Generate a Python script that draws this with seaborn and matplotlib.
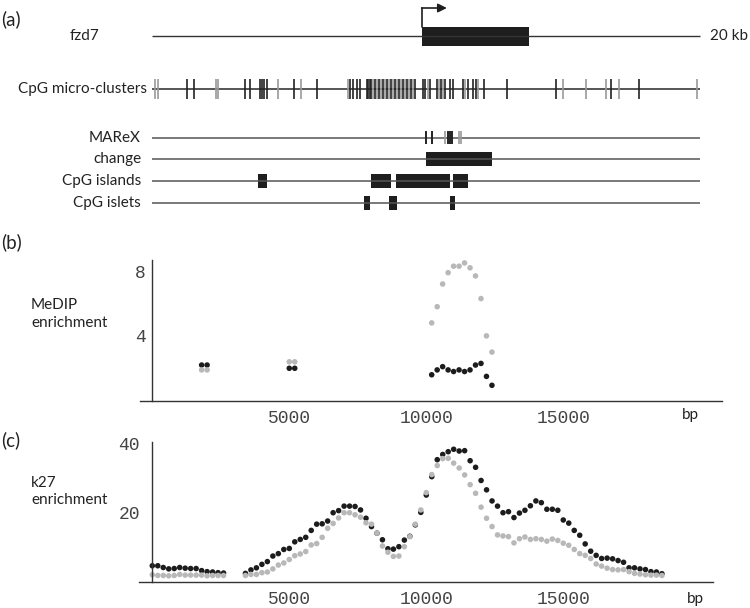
import numpy as np
import pandas as pd
import matplotlib.pyplot as plt
import seaborn as sns

# ---------------- data (bp along the 20 kb window) ----------------
gene_start, gene_end = 9850, 13750

micro_black = [1270, 1530, 3390, 3570, 3930, 4000, 4080, 4180, 5160, 6000, 7230, 7310,
               7460, 7580, 7820, 7870, 7930, 7980, 8130, 8280, 8420, 8570, 8710, 8860,
               9000, 9150, 9300, 9440, 9590, 9880, 9950, 10140, 10390, 10540, 10680,
               10870, 10960, 11340, 11520, 11710, 11820, 12110, 12950, 14740, 16740, 17770]
micro_gray = [100, 190, 2340, 2410, 4600, 5440, 7160, 8060, 8200, 8350, 8490, 8640, 8790,
              8930, 9080, 9220, 9370, 9520, 10050, 10460, 10610, 11430, 11890, 14990,
              15830, 16560, 17040, 19880]

marex_black = [9990, 10200, 10800, 10870, 10930]
marex_gray = [10670, 11190, 11280]
change = [(10000, 12390)]
cpg_islands = [(3870, 4180), (7980, 8710), (8880, 10870), (10990, 11530)]
cpg_islets = [(7740, 7950), (8650, 8930), (10870, 11060)]

# MeDIP enrichment
medip_bp = [1800, 2000, 5000, 5200, 10200, 10400, 10600, 10800, 11000, 11200,
            11400, 11600, 11800, 12000, 12200, 12400]
medip_black = [2.2, 2.2, 2.0, 2.0, 1.6, 1.9, 2.1, 1.9, 1.8, 1.9, 1.8, 1.9, 2.2, 2.3, 1.5, 0.95]
medip_gray = [1.9, 1.9, 2.4, 2.4, 4.8, 5.8, 7.2, 7.9, 8.3, 8.3, 8.5, 8.2, 7.7, 6.3, 4.0, 3.0]

# k27 enrichment, 200 bp bins
k27_bp = list(range(0, 2601, 200)) + list(range(3400, 18601, 200))
k27_black = [4.6, 4.6, 4.1, 3.7, 3.8, 4.1, 3.9, 3.8, 3.8, 3.2, 2.9, 2.8, 2.6, 2.5,
             2.4, 3.4, 4.0, 5.0, 5.8, 7.4, 8.1, 9.3, 9.6, 11.5, 12.2, 12.8, 14.8, 16.6,
             16.7, 17.5, 19.9, 20.5, 21.8, 21.8, 21.7, 20.7, 18.3, 15.9, 14.0, 12.1, 9.5,
             9.4, 10.1, 12.0, 13.1, 16.4, 20.0,
             25.0, 30.3, 35.2, 36.7, 37.5, 38.2, 37.7, 37.8, 34.9, 33.0, 29.2, 26.5, 23.3,
             21.8, 19.9, 20.2, 18.5, 19.8, 20.6, 21.9, 23.3, 22.8, 20.9, 20.9, 20.6, 17.8,
             16.9, 14.8, 13.4, 10.9, 8.8, 7.6, 6.7, 6.8, 6.6, 6.1, 5.6, 4.0, 4.0, 3.7, 3.5,
             2.9, 2.8, 2.3]
k27_gray = [2.0, 1.8, 1.8, 1.7, 1.8, 2.1, 1.9, 1.9, 1.9, 1.9, 1.7, 1.8, 1.8, 1.8,
            1.8, 2.1, 2.1, 2.6, 2.8, 3.7, 4.8, 5.4, 6.4, 7.5, 8.0, 8.7, 10.6, 11.0,
            12.8, 15.4, 16.8, 18.4, 19.9, 19.9, 19.3, 18.6, 17.0, 16.6, 14.0, 10.3, 8.5,
            7.3, 7.4, 10.1, 13.0, 16.6, 20.7,
            25.7, 30.9, 33.5, 35.5, 35.6, 34.2, 32.8, 30.8, 28.0, 25.5, 21.5, 18.3, 15.9,
            13.5, 13.2, 13.0, 11.2, 12.4, 12.9, 12.2, 12.4, 12.2, 11.7, 12.3, 11.9, 11.1,
            10.5, 9.3, 8.1, 7.6, 6.7, 5.1, 4.5, 3.9, 3.5, 3.4, 3.5, 2.9, 2.4, 2.2, 2.0,
            1.9, 1.9, 1.8]

BLACK = "#1c1c1c"
GRAY = "#b8b8b8"

sns.set_style("white")
plt.rcParams["font.family"] = ["Lato", "DejaVu Sans"]
MONO = "Liberation Mono"

W, H = 750, 608
fig = plt.figure(figsize=(W / 100, H / 100), dpi=100)


def ftext(x, y, s, **kw):
    kw.setdefault("va", "center")
    kw.setdefault("fontsize", 11)
    kw.setdefault("color", "#222222")
    fig.text(x / W, 1 - y / H, s, **kw)


def px2bp(p):
    return (p - 152.3) / 0.0274


# ---------------- panel (a): tracks ----------------
ax_a = fig.add_axes([0, 1 - 215 / H, 1, 215 / H])
ax_a.set_xlim(px2bp(0), px2bp(W))
ax_a.set_ylim(215, 0)
ax_a.axis("off")

y_gene, y_micro = 36, 89
y_marex, y_change, y_isl, y_islet = 137.5, 159, 181, 203

ax_a.hlines(y_gene, 0, 20000, color="#333333", lw=1.0)
ax_a.fill_between([gene_start, gene_end], y_gene - 9.5, y_gene + 9.5, color="#1e1e1e", lw=0)
ax_a.plot([gene_start, gene_start], [y_gene - 9.5, 8], color="#1e1e1e", lw=1.2)
ax_a.annotate("", xy=(gene_start + 900, 8), xytext=(gene_start - 20, 8),
              arrowprops=dict(arrowstyle="-|>", color="#1e1e1e", lw=1.2,
                              mutation_scale=13, shrinkA=0, shrinkB=0))

ax_a.hlines(y_micro, 0, 20000, color="#555555", lw=1.4)
ax_a.vlines(micro_gray, y_micro - 10, y_micro + 10, color="#999999", lw=1.2)
ax_a.vlines(micro_black, y_micro - 10, y_micro + 10, color="#222222", lw=1.2)

for yy in (y_marex, y_change, y_isl, y_islet):
    ax_a.hlines(yy, 0, 20000, color="#555555", lw=1.1)
ax_a.vlines(marex_gray, y_marex - 6.5, y_marex + 6.5, color="#999999", lw=1.2)
ax_a.vlines(marex_black, y_marex - 6.5, y_marex + 6.5, color="#222222", lw=1.4)
for yy, boxes in ((y_change, change), (y_isl, cpg_islands), (y_islet, cpg_islets)):
    for s, e in boxes:
        ax_a.fill_between([s, e], yy - 7, yy + 7, color="#1e1e1e", lw=0)

ftext(1, 19, "(a)", fontsize=13.5)
ftext(70, 36, "fzd7")
ftext(710, 36, "20 kb")
ftext(18, 89, "CpG micro-clusters")
for yy, name in ((y_marex, "MAReX"), (y_change, "change"),
                 (y_isl, "CpG islands"), (y_islet, "CpG islets")):
    ftext(141, yy, name, ha="right")


# ---------------- scatter panels ----------------
def scatter_panel(ax, bp, black, gray):
    df = pd.DataFrame({
        "bp": list(bp) + list(bp),
        "value": list(black) + list(gray),
        "series": ["black"] * len(bp) + ["gray"] * len(bp),
    })
    sns.scatterplot(data=df, x="bp", y="value", hue="series",
                    palette={"black": BLACK, "gray": GRAY}, s=16, linewidth=0,
                    legend=False, ax=ax, clip_on=False)
    ax.spines["left"].set_position(("data", 0))
    ax.spines[["top", "right"]].set_visible(False)
    for sp in ("left", "bottom"):
        ax.spines[sp].set_color("#333333")
        ax.spines[sp].set_linewidth(1.0)
    ax.set_xlabel("")
    ax.set_ylabel("")
    ax.set_xticks([5000, 10000, 15000])
    ax.set_xticklabels(["5000", "10000", "15000"])
    ax.tick_params(direction="in", length=4, width=0.8, colors="#333333",
                   labelcolor="#444444", labelsize=13)
    for lab in ax.get_xticklabels() + ax.get_yticklabels():
        lab.set_fontfamily(MONO)
    ax.patch.set_alpha(0)


ax_b = fig.add_axes([140 / W, 1 - 400.7 / H, 582 / W, 141 / H])
scatter_panel(ax_b, medip_bp, medip_black, medip_gray)
ax_b.set_xlim(-450, 20800)
ax_b.set_ylim(0, 8.7)
ax_b.set_yticks([4, 8])
ax_b.set_yticklabels(["4", "8"], fontfamily=MONO)
ax_b.tick_params(axis="x", pad=7)
ax_b.tick_params(axis="y", pad=5)

ax_c = fig.add_axes([138.6 / W, 1 - 581.7 / H, 574 / W, 139.7 / H])
scatter_panel(ax_c, k27_bp, k27_black, k27_gray)
ax_c.set_xlim(-500, 20450)
ax_c.set_ylim(0, 40.3)
ax_c.set_yticks([20, 40])
ax_c.set_yticklabels(["20", "40"], fontfamily=MONO)
ax_c.tick_params(axis="x", pad=7)
ax_c.tick_params(axis="y", pad=9)

ftext(1, 242, "(b)", fontsize=13.5)
ftext(31, 305, "MeDIP")
ftext(31, 323, "enrichment")
ftext(690, 415, "bp", ha="center")

ftext(1, 440, "(c)", fontsize=13.5)
ftext(31, 483, "k27")
ftext(31, 500, "enrichment")
ftext(695, 599, "bp", ha="center")

fig.savefig("out.png", dpi=100)
